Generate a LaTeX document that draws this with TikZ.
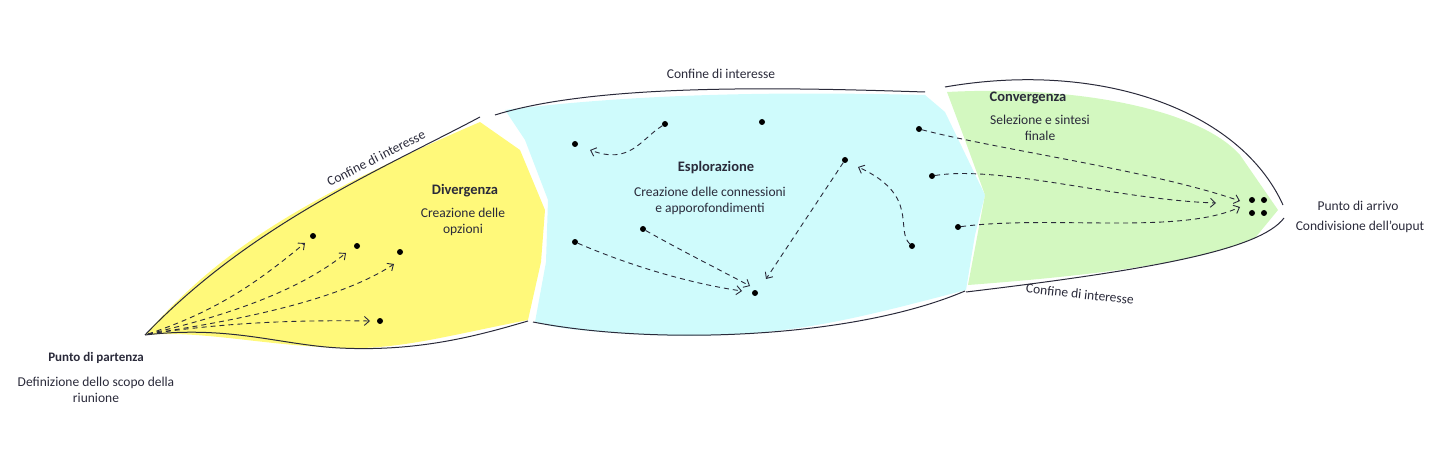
\documentclass[tikz,border=0pt]{standalone}
\usepackage{fontspec}
\setmainfont{Carlito}
\usetikzlibrary{arrows.meta}
\definecolor{yel}{HTML}{FFF97A}
\definecolor{cya}{HTML}{CFFBFC}
\definecolor{grn}{HTML}{D3F8C0}
\definecolor{ink}{HTML}{2A2A3A}
\begin{document}
\begin{tikzpicture}[x=1pt,y=-1pt,
  dot/.style={circle,fill=black,inner sep=0pt,minimum size=6pt},
  flow/.style={draw=ink,dashed,line width=0.9pt,dash pattern=on 5pt off 4pt,-{Straight Barb[length=5pt,width=9pt]}},
  bound/.style={draw=ink,line width=1pt},
  lbl/.style={font=\fontsize{13.5}{16}\selectfont,align=center,text=ink,inner sep=1pt},
  ttl/.style={font=\bfseries\fontsize{14.5}{16}\selectfont,text=ink,inner sep=1pt}]
\useasboundingbox (0,0) rectangle (1440,449);
% fills
\fill[yel] (145,335) .. controls (220,250) and (300,200) .. (480,122) -- (520,150) -- (545,210) -- (541,262) -- (528,320) .. controls (450,335) and (400,350) .. (340,348) .. controls (260,345) and (200,330) .. (145,335) -- cycle;
\fill[cya] (505,110) .. controls (650,92) and (800,92) .. (925,95) -- (945,112) -- (985,195) -- (975,235) -- (966,290) .. controls (850,320) and (780,340) .. (650,335) .. controls (600,332) and (560,330) .. (535,322) -- (546,262) -- (548,200) -- (525,140) -- cycle;
\fill[grn] (947,92) .. controls (1080,85) and (1200,110) .. (1240,155) -- (1278,210) -- (1255,238) .. controls (1200,262) and (1100,275) .. (968,285) -- (978,232) -- (985,195) -- (965,140) -- cycle;
% boundaries
\draw[bound] (145,335) .. controls (250,225) and (380,170) .. (480,117);
\draw[bound] (145,335) .. controls (230,325) and (280,345) .. (340,348) .. controls (420,352) and (480,335) .. (528,321);
\draw[bound] (495,115) .. controls (600,82) and (800,88) .. (925,92);
\draw[bound] (533,322) .. controls (650,345) and (850,340) .. (965,291);
\draw[bound] (945,87) .. controls (1100,60) and (1240,110) .. (1283,205);
\draw[bound] (966,292) .. controls (1150,270) and (1260,250) .. (1284,218);
% boundary labels
\node[lbl,rotate=27] (b1) at (376,158) {Confine di interesse};
\node[lbl] (b2) at (721,74) {Confine di interesse};
\node[lbl,rotate=-6] (b3) at (1080,294) {Confine di interesse};
% titles
\node[ttl] (t1) at (465,191) {Divergenza};
\node[lbl] (t1b) at (463,222) {Creazione delle\\opzioni};
\node[ttl] (t2) at (716,168) {Esplorazione};
\node[lbl] (t2b) at (710,201) {Creazione delle connessioni\\e apporofondimenti};
\node[ttl] (t3) at (1028,98) {Convergenza};
\node[lbl] (t3b) at (1040,128) {Selezione e sintesi\\finale};
\node[lbl,font=\bfseries\fontsize{13}{16}\selectfont] (p1) at (96,358) {Punto di partenza};
\node[lbl] (p1b) at (96,390) {Definizione dello scopo della\\riunione};
\node[lbl] (p2) at (1358,206) {Punto di arrivo};
\node[lbl] (p2b) at (1360,227) {Condivisione dell'ouput};
% divergence
\coordinate (s) at (148,334);
\node[dot] (d1) at (313,236) {};
\node[dot] (d2) at (357,246) {};
\node[dot] (d3) at (400,252) {};
\node[dot] (d4) at (380,321) {};
\draw[flow] (s) .. controls (220,310) and (260,280) .. (305,243);
\draw[flow] (s) .. controls (230,315) and (300,290) .. (346,253);
\draw[flow] (s) .. controls (240,320) and (340,300) .. (394,264);
\draw[flow] (s) .. controls (230,322) and (300,320) .. (370,321);
% exploration
\node[dot] (e1) at (665,124) {};
\node[dot] (e2) at (575,144) {};
\node[dot] (e3) at (762,122) {};
\node[dot] (e4) at (845,160) {};
\node[dot] (e5) at (575,242) {};
\node[dot] (e6) at (643,229) {};
\node[dot] (e7) at (755,293) {};
\node[dot] (e8) at (912,246) {};
\draw[flow] (e1) .. controls (640,140) and (630,165) .. (590,150);
\draw[flow] (e5) .. controls (640,270) and (700,285) .. (742,291);
\draw[flow] (e6) .. controls (680,250) and (720,270) .. (750,286);
\draw[flow] (e4) -- (766,279);
\draw[flow] (e8) .. controls (895,230) and (920,195) .. (858,167);
% convergence
\node[dot] (c1) at (919,129) {};
\node[dot] (c2) at (932,176) {};
\node[dot] (c3) at (958,227) {};
\node[dot] (f1) at (1252,200) {};
\node[dot] (f2) at (1264,200) {};
\node[dot] (f3) at (1252,213) {};
\node[dot] (f4) at (1264,213) {};
\draw[flow] (c1) .. controls (1000,150) and (1150,170) .. (1240,201);
\draw[flow] (c2) .. controls (1000,165) and (1120,200) .. (1216,203);
\draw[flow] (c3) .. controls (1050,215) and (1180,235) .. (1240,207);
\end{tikzpicture}
\end{document}
